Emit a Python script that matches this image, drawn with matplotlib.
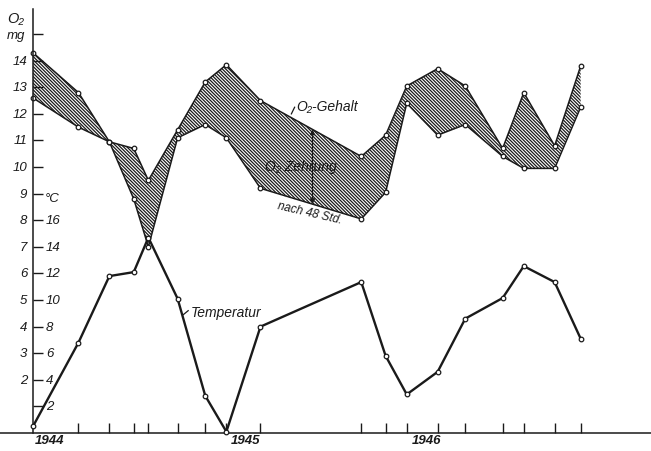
"""Oxygen content, oxygen consumption after 48 h and water temperature, 1944-1946."""

import matplotlib

matplotlib.use("Agg")
import matplotlib.pyplot as plt
import numpy as np

plt.rcParams["font.family"] = ["Liberation Sans Narrow", "Liberation Sans", "DejaVu Sans"]
plt.rcParams["hatch.linewidth"] = 0.9

# sampling dates, months since start of 1944
months = [0.0, 2.8, 4.7, 6.2, 7.1, 8.9, 10.6, 11.9, 14.0,
          20.2, 21.7, 23.0, 24.9, 26.6, 28.9, 30.2, 32.1, 33.7]
# O2 content (mg/l) at sampling
o2_gehalt = [14.3, 12.8, 10.95, 10.7, 9.5, 11.4, 13.2, 13.85, 12.5,
             10.4, 11.2, 13.05, 13.7, 13.05, 10.7, 12.8, 10.8, 13.8]
# O2 content after 48 h (mg/l)
o2_48h = [12.6, 11.5, 10.95, 8.8, 7.0, 11.1, 11.6, 11.1, 9.2,
          8.05, 9.05, 12.4, 11.2, 11.6, 10.4, 9.95, 9.95, 12.25]
# water temperature (deg C)
temperatur = [0.5, 6.8, 11.8, 12.1, 14.7, 10.1, 2.8, 0.1, 8.0,
              11.35, 5.8, 2.9, 4.6, 8.6, 10.15, 12.55, 11.35, 7.1]

o2_ticks = list(range(2, 15))
temp_ticks = list(range(2, 17, 2))
years = ["1944", "1945", "1946"]
year_pos = [0.1, 13.1, 24.2]


def main() -> None:
    fig = plt.figure(figsize=(6.51, 4.52), dpi=100)
    ax = fig.add_axes([0, 0, 1, 1])
    ax.set_xlim(-2.03, 38.03)
    ax.set_ylim(-0.677, 16.32)

    x = np.array(months)
    up = np.array(o2_gehalt)
    lo = np.array(o2_48h)
    t_scaled = np.array(temperatur) / 2.0  # 2 degC per mg O2 on the shared scale

    ink = "#1a1a1a"
    ax.fill_between(x, lo, up, facecolor="none", edgecolor=ink,
                    hatch="\\" * 10, linewidth=0)
    mk = dict(marker="o", markersize=3.3, markerfacecolor="white",
              markeredgecolor=ink, markeredgewidth=0.9)
    ax.plot(x, up, color=ink, lw=1.1, **mk)
    ax.plot(x, lo, color=ink, lw=1.1, **mk)
    ax.plot(x, t_scaled, color=ink, lw=1.7, zorder=4, **mk)

    # axes drawn through the origin like the printed figure
    for side in ("top", "right"):
        ax.spines[side].set_visible(False)
    ax.spines["left"].set_position(("data", 0))
    ax.spines["bottom"].set_position(("data", 0))
    ax.spines["left"].set_bounds(0, 15.94)
    ax.spines["left"].set_linewidth(1.1)
    ax.spines["bottom"].set_linewidth(1.1)
    ax.spines["left"].set_color(ink)
    ax.spines["bottom"].set_color(ink)

    ax.set_yticks(range(1, 16))
    ax.set_xticks([m for m in months if m > 0])
    ax.set_xticklabels([])
    ax.set_yticklabels([])
    ax.tick_params(axis="both", direction="in", length=7.5, width=1.0, color=ink)

    lab = dict(fontsize=9.5, style="italic", color=ink)
    for v in o2_ticks:
        ax.text(-0.35, v, str(v), ha="right", va="center", **lab)
    for v in temp_ticks:
        ax.text(0.8, v / 2.0, str(v), ha="left", va="center", **lab)
    ax.text(0.75, 8.85, "°C", ha="left", va="center", **lab)
    ax.text(-1.05, 15.6, "O₂", ha="center", va="center", fontsize=10.5,
            style="italic", color=ink)
    ax.text(-1.05, 14.95, "mg", ha="center", va="center", **lab)

    for name, pos in zip(years, year_pos):
        ax.text(pos, -0.28, name, ha="center" if pos > 1 else "left", va="center",
                fontsize=9.5, style="italic", fontweight="bold", color=ink)

    # labels inside the plot
    ax.text(16.2, 12.3, "O₂-Gehalt", ha="left", va="center", fontsize=10,
            style="italic", color=ink)
    ax.plot([15.9, 16.1], [12.0, 12.25], color=ink, lw=0.9)
    ax.text(14.3, 10.05, "O₂ Zehrung", ha="left", va="center", fontsize=10,
            style="italic", color=ink)
    xa = 17.2
    ax.annotate("", xy=(xa, np.interp(xa, x, up)), xytext=(xa, np.interp(xa, x, lo)),
                arrowprops=dict(arrowstyle="<|-|>", color=ink, lw=0.9,
                                mutation_scale=7, shrinkA=0, shrinkB=0))
    ax.text(17.0, 8.3, "nach 48 Std.", ha="center", va="center", fontsize=8.5,
            style="italic", rotation=-13, color=ink)
    ax.text(9.7, 4.55, "Temperatur", ha="left", va="center", fontsize=10,
            style="italic", color=ink)
    ax.plot([9.25, 9.55], [4.45, 4.6], color=ink, lw=0.9)

    fig.savefig("out.png", dpi=100, facecolor="white")


if __name__ == "__main__":
    main()
